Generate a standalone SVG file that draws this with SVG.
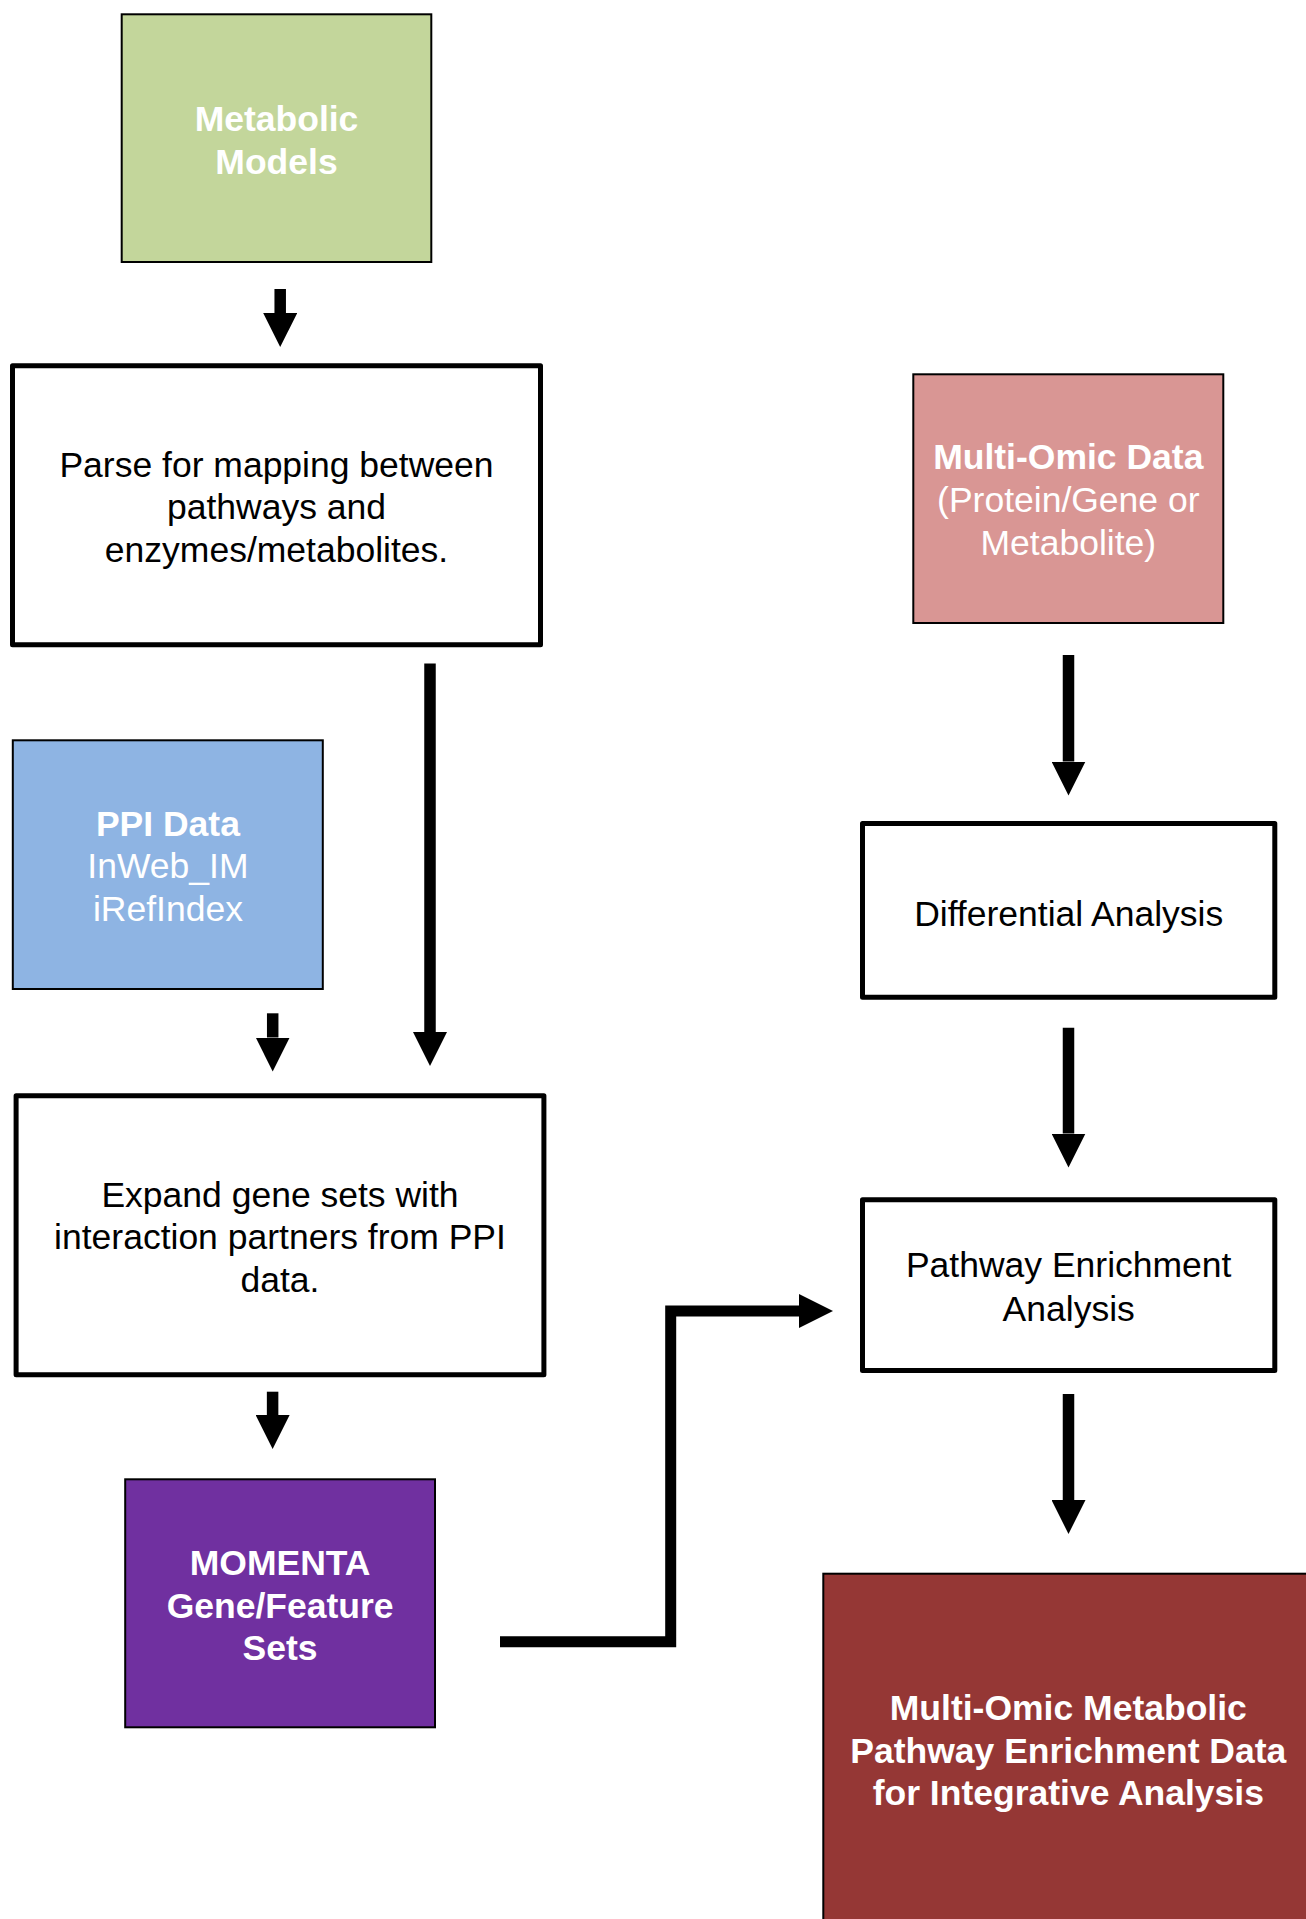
<svg xmlns="http://www.w3.org/2000/svg" width="1306" height="1919" viewBox="0 0 1306 1919">
<style>
.t{font-family:"Liberation Sans",Arial,sans-serif;font-size:35.5px;text-anchor:middle}
.w{fill:#ffffff}
.b{font-weight:bold}
.k{fill:#000000}
.thin{stroke:#000;stroke-width:2}
.thick{fill:#ffffff;stroke:#000;stroke-width:5;stroke-linejoin:round}
.c{fill:none;stroke:#000;stroke-width:11.5;stroke-linecap:butt;stroke-linejoin:miter}
</style>
<defs>
<marker id="ah" markerUnits="userSpaceOnUse" markerWidth="34" markerHeight="34" refX="0" refY="17" orient="auto" viewBox="0 0 34 34">
<path d="M0,0 L34,17 L0,34 Z" fill="#000"/>
</marker>
</defs>
<rect width="1306" height="1919" fill="#ffffff"/>

<g id="connectors">
<path class="c" d="M280.2,289 V313" marker-end="url(#ah)"/>
<path class="c" d="M430,663.5 V1032" marker-end="url(#ah)"/>
<path class="c" d="M272.7,1013.3 V1037.5" marker-end="url(#ah)"/>
<path class="c" d="M272.6,1391.7 V1415" marker-end="url(#ah)"/>
<path class="c" style="stroke-width:11" d="M500,1641.7 H670.7 V1311 H799" marker-end="url(#ah)"/>
<path class="c" d="M1068.5,655 V761.5" marker-end="url(#ah)"/>
<path class="c" d="M1068.5,1027.7 V1133.5" marker-end="url(#ah)"/>
<path class="c" d="M1068.5,1394 V1500" marker-end="url(#ah)"/>
</g>

<g id="metabolic-models">
<rect class="thin" x="121.7" y="14.3" width="309.6" height="247.7" fill="#C3D69B"/>
<text class="t w b" x="276.5" y="130.5">Metabolic</text>
<text class="t w b" x="276.5" y="173.5">Models</text>
</g>

<g id="parse">
<rect class="thick" x="12.5" y="365.8" width="528" height="279"/>
<text class="t k" x="276.5" y="476.5">Parse for mapping between</text>
<text class="t k" x="276.5" y="519.4">pathways and</text>
<text class="t k" x="276.5" y="562.3">enzymes/metabolites.</text>
</g>

<g id="multi-omic-data">
<rect class="thin" x="913.3" y="374.3" width="310" height="248.7" fill="#D99694"/>
<text class="t w b" x="1068.3" y="469.3">Multi-Omic Data</text>
<text class="t w" x="1068.3" y="512.2">(Protein/Gene or</text>
<text class="t w" x="1068.3" y="555.1">Metabolite)</text>
</g>

<g id="ppi-data">
<rect class="thin" x="12.8" y="740.3" width="310" height="248.7" fill="#8EB4E3"/>
<text class="t w b" x="167.9" y="835.5">PPI Data</text>
<text class="t w" x="167.9" y="878.4">InWeb_IM</text>
<text class="t w" x="167.9" y="921.3">iRefIndex</text>
</g>

<g id="differential-analysis">
<rect class="thick" x="862.5" y="823.5" width="412.3" height="173.8"/>
<text class="t k" x="1068.7" y="925.6">Differential Analysis</text>
</g>

<g id="expand">
<rect class="thick" x="16.1" y="1095.8" width="527.8" height="279"/>
<text class="t k" x="280" y="1206.5">Expand gene sets with</text>
<text class="t k" x="280" y="1249.4">interaction partners from PPI</text>
<text class="t k" x="280" y="1292.3">data.</text>
</g>

<g id="pathway-enrichment">
<rect class="thick" x="862.5" y="1199.7" width="412.3" height="170.7"/>
<text class="t k" x="1068.7" y="1277.3">Pathway Enrichment</text>
<text class="t k" x="1068.7" y="1320.5">Analysis</text>
</g>

<g id="momenta">
<rect class="thin" x="125.2" y="1479.3" width="309.8" height="248" fill="#7030A0"/>
<text class="t w b" x="280.1" y="1574.6">MOMENTA</text>
<text class="t w b" x="280.1" y="1617.5">Gene/Feature</text>
<text class="t w b" x="280.1" y="1660.4">Sets</text>
</g>

<g id="final-output">
<rect class="thin" x="823.3" y="1573.7" width="490" height="350" fill="#953735"/>
<text class="t w b" x="1068.3" y="1719.6">Multi-Omic Metabolic</text>
<text class="t w b" x="1068.3" y="1762.5">Pathway Enrichment Data</text>
<text class="t w b" x="1068.3" y="1805.4">for Integrative Analysis</text>
</g>
</svg>
